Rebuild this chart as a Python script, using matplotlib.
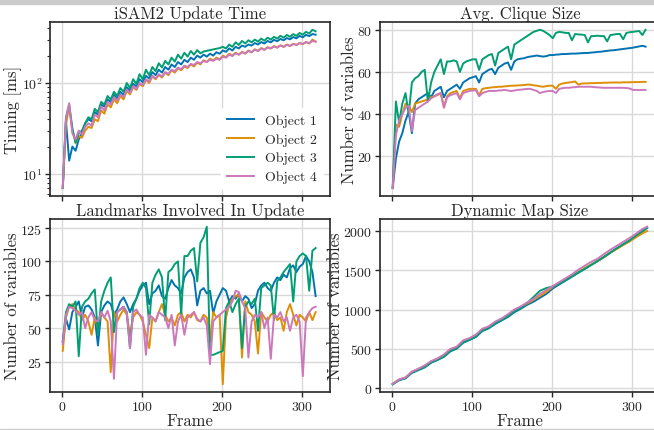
import numpy as np
import matplotlib
matplotlib.use("Agg")
import matplotlib.pyplot as plt
from matplotlib.ticker import MultipleLocator
from matplotlib.patches import Rectangle

# ------------------ Datos ------------------
labels = ["Object 1", "Object 2", "Object 3", "Object 4"]
colors = ["#0173B2", "#DE8F05", "#029E73", "#CC78BC"]

# frames muestreados cada 4
frames = np.arange(1, 320, 4)

# iSAM2 update time [ms]
timing_obj1 = [7, 38, 14, 20, 18, 24, 28, 36, 40, 38,
               48, 45, 58, 55, 66, 62, 74, 68, 80, 74,
               90, 82, 98, 92, 110, 102, 120, 112, 132, 122,
               140, 130, 150, 140, 160, 150, 170, 160, 180, 170,
               190, 180, 200, 190, 205, 195, 210, 200, 218, 210,
               228, 220, 240, 228, 250, 240, 258, 250, 265, 258,
               275, 265, 282, 272, 290, 280, 298, 288, 305, 295,
               312, 302, 320, 310, 330, 318, 338, 328, 345, 340]
timing_obj2 = [7, 35, 55, 30, 22, 26, 25, 30, 33, 32,
               40, 38, 50, 46, 58, 54, 66, 60, 72, 66,
               82, 75, 90, 84, 98, 92, 108, 100, 118, 110,
               122, 115, 130, 122, 138, 130, 145, 138, 152, 146,
               160, 152, 168, 160, 178, 170, 185, 178, 190, 182,
               200, 192, 210, 200, 215, 205, 220, 210, 228, 218,
               235, 225, 242, 232, 248, 240, 255, 245, 260, 250,
               265, 255, 270, 262, 275, 268, 282, 272, 300, 285]
timing_obj3 = [7, 42, 58, 32, 22, 28, 30, 36, 42, 40,
               52, 48, 62, 58, 72, 66, 80, 72, 88, 80,
               100, 88, 110, 98, 125, 110, 140, 122, 150, 135,
               165, 148, 175, 160, 190, 172, 205, 185, 215, 195,
               225, 205, 230, 212, 222, 226, 230, 234, 238, 242,
               250, 240, 265, 250, 280, 262, 290, 272, 295, 280,
               300, 285, 308, 292, 315, 300, 322, 308, 330, 315,
               338, 322, 345, 330, 355, 340, 365, 350, 385, 370]
timing_obj4 = [7, 40, 60, 28, 24, 30, 27, 33, 36, 34,
               45, 42, 55, 50, 62, 58, 70, 64, 75, 70,
               85, 78, 92, 86, 100, 95, 110, 104, 120, 112,
               125, 118, 132, 126, 140, 135, 148, 142, 155, 150,
               162, 158, 170, 165, 175, 170, 180, 175, 185, 180,
               195, 190, 205, 198, 212, 205, 218, 212, 225, 218,
               232, 225, 240, 232, 245, 240, 252, 245, 258, 250,
               262, 256, 268, 262, 275, 268, 282, 275, 290, 285]

# Avg. clique size
clique_obj1 = [5, 19, 27, 31, 37, 41, 31, 45, 47, 48,
               49, 50, 48, 51, 52, 53, 48, 51, 52, 53,
               54, 52, 55, 56, 57, 57.5, 58, 55, 59, 60,
               61, 61.5, 59, 62, 63, 64, 64.5, 61, 65, 66,
               66.3, 66.5, 67, 67.3, 67.5, 67.8, 67.5, 67.3, 67.5, 68,
               68, 68.2, 68.3, 68.5, 68.5, 68.6, 68.7, 68.7, 68.8, 68.9,
               69, 69, 69.2, 69.3, 69.5, 69.6, 69.8, 70, 70.2, 70.3,
               70.5, 70.7, 70.9, 71.1, 71.3, 71.5, 71.8, 72.1, 72.4, 72]
clique_obj2 = [5, 35, 34, 40, 45, 44, 41, 45, 45.5, 46,
               46.5, 47, 48, 48.5, 49, 50, 43.5, 48.5, 50, 50.5,
               51, 47.5, 51, 51.5, 52, 52, 52, 49, 52, 52.3,
               52.5, 52.7, 52.8, 53, 53, 53.2, 53.3, 53.5, 53.5, 53.6,
               53.7, 53.8, 54, 54, 53.7, 53.5, 53.2, 53, 53.3, 53.5,
               53.5, 52, 54, 54.5, 54.8, 55, 55.2, 55.5, 54, 54.5,
               54.6, 54.6, 54.7, 54.7, 54.8, 54.8, 54.9, 54.9, 55, 55,
               55, 55, 55.1, 55.1, 55.1, 55.2, 55.2, 55.2, 55.3, 55.3]
clique_obj3 = [5, 46, 36, 45, 50, 40, 55, 57, 58, 60,
               61, 46, 55, 60, 63, 66, 59, 65, 65, 65.5,
               65, 60, 64, 65, 65.5, 66, 66, 61, 66, 67,
               68, 68.5, 63, 69, 70, 71, 72, 66, 73, 74,
               75, 76, 77, 78, 79, 79.5, 80, 79.5, 78.5, 77.5,
               76, 78.5, 79, 78.8, 78.5, 78.5, 75, 78, 77.8, 77.7,
               77.5, 74, 77, 77, 77.2, 77, 77, 74.5, 77.5, 77.7,
               78, 78, 75.5, 78.5, 78.8, 79, 79.2, 79.4, 77.5, 80]
clique_obj4 = [5, 30, 37, 40, 43, 44, 32, 42, 43, 44,
               45, 46, 47.5, 48.5, 49.5, 50, 43, 48, 49, 49.5,
               50, 47, 50, 50.5, 51, 51.2, 51.3, 48.5, 50, 50.5,
               51, 51, 51, 51.2, 51.3, 51.5, 51.2, 51, 51.2, 51.5,
               51.6, 51.8, 52, 52, 51.5, 51, 50, 50.5, 50.8, 51,
               51, 50, 52, 52.3, 52.5, 52.5, 52.7, 52.8, 53, 53,
               53, 53, 53, 52.8, 52.7, 52.6, 52.5, 52.5, 52.5, 52.5,
               52.5, 52.5, 52.5, 52.4, 52.2, 51.5, 51.5, 51.4, 51.5, 51.5]

# Landmarks involved in update
lm_obj1 = [40, 57, 49, 62, 66, 70, 58, 66, 67, 64,
           58, 37, 62, 67, 70, 68, 60, 64, 70, 73,
           68, 62, 68, 72, 78, 82, 84, 68, 76, 78,
           82, 74, 72, 80, 86, 82, 80, 76, 88, 92,
           94, 88, 67, 78, 80, 76, 78, 61, 70, 75,
           80, 78, 70, 74, 72, 76, 70, 74, 72, 65,
           68, 78, 82, 84, 80, 78, 84, 88, 86, 90,
           88, 95, 97, 92, 96, 98, 104, 100, 92, 74]
lm_obj2 = [33, 58, 66, 68, 64, 62, 56, 60, 55, 45,
           58, 50, 62, 58, 55, 17, 62, 55, 60, 64,
           60, 45, 58, 62, 60, 55, 45, 35, 58, 55,
           62, 68, 60, 55, 58, 52, 60, 62, 55, 60,
           58, 62, 56, 55, 60, 58, 40, 62, 58, 60,
           8, 58, 68, 72, 74, 75, 28, 70, 62, 60,
           55, 31, 62, 58, 55, 60, 62, 56, 58, 48,
           62, 68, 60, 52, 60, 58, 55, 62, 56, 62]
lm_obj3 = [40, 62, 68, 66, 70, 29, 66, 70, 72, 76,
           79, 45, 70, 78, 84, 88, 47, 62, 64, 66,
           62, 35, 66, 72, 80, 84, 80, 53, 84, 90,
           94, 88, 56, 92, 94, 98, 100, 60, 104, 104,
           108, 110, 85, 114, 118, 126, 30, 30, 31, 32,
           33, 65, 70, 62, 68, 72, 35, 66, 70, 68,
           72, 48, 80, 82, 84, 82, 56, 85, 88, 92,
           95, 98, 70, 100, 104, 106, 104, 78, 108, 110]
lm_obj4 = [38, 60, 66, 65, 63, 60, 62, 50, 58, 62,
           56, 55, 62, 58, 63, 55, 12, 62, 64, 66,
           62, 35, 62, 64, 60, 58, 30, 60, 58, 55,
           62, 60, 58, 50, 60, 37, 55, 60, 45, 58,
           60, 62, 57, 55, 58, 52, 23, 55, 58, 60,
           62, 64, 66, 70, 78, 77, 70, 65, 28, 55,
           60, 58, 62, 50, 58, 27, 60, 58, 62, 55,
           58, 48, 58, 60, 55, 14, 58, 62, 65, 66]

# Dynamic map size (cada 8 frames)
frames_map = list(range(1, 314, 8)) + [319]
map_obj1 = [45, 95, 120, 190, 225, 260, 320, 355, 395, 465,
            500, 575, 610, 650, 725, 760, 815, 860, 905, 965,
            1010, 1060, 1100, 1150, 1200, 1270, 1320, 1370, 1420, 1470,
            1520, 1570, 1620, 1670, 1725, 1780, 1830, 1880, 1940, 2000, 2045]
map_obj2 = [50, 105, 130, 205, 240, 280, 335, 370, 420, 490,
            520, 595, 625, 665, 745, 775, 835, 875, 925, 985,
            1030, 1075, 1125, 1175, 1225, 1290, 1335, 1385, 1430, 1480,
            1530, 1575, 1620, 1670, 1730, 1775, 1825, 1870, 1925, 1975, 2005]
map_obj3 = [45, 100, 122, 195, 228, 265, 322, 358, 400, 470,
            505, 580, 615, 655, 730, 765, 825, 865, 915, 975,
            1020, 1085, 1160, 1240, 1275, 1295, 1330, 1375, 1425, 1475,
            1520, 1570, 1620, 1675, 1730, 1785, 1835, 1885, 1945, 2005, 2045]
map_obj4 = [50, 105, 130, 205, 242, 285, 340, 375, 425, 495,
            525, 605, 635, 680, 755, 785, 845, 885, 940, 1000,
            1040, 1090, 1135, 1200, 1250, 1300, 1350, 1400, 1450, 1510,
            1560, 1610, 1650, 1710, 1765, 1815, 1865, 1915, 1970, 2030, 2060]

# ------------------ Estilo ------------------
plt.rcParams.update({
    "font.family": "cmr10",
    "mathtext.fontset": "cm",
    "axes.formatter.use_mathtext": True,
    "axes.unicode_minus": False,
    "axes.edgecolor": "0.15",
    "axes.linewidth": 1.2,
    "text.color": "0.15",
    "axes.labelcolor": "0.15",
    "xtick.color": "0.15",
    "ytick.color": "0.15",
    "grid.color": "0.85",
    "grid.linewidth": 1.0,
})

fig = plt.figure(figsize=(6.54, 4.31), dpi=100)
ax_t = fig.add_axes([0.0765, 0.543, 0.428, 0.404])
ax_c = fig.add_axes([0.581, 0.543, 0.428, 0.404], sharex=ax_t)
ax_l = fig.add_axes([0.0765, 0.088, 0.428, 0.402], sharex=ax_t)
ax_m = fig.add_axes([0.581, 0.088, 0.428, 0.402], sharex=ax_t)

# (eje, x, series, titulo, etiqueta y, posicion x de la etiqueta)
panels = [
    (ax_t, frames, [timing_obj1, timing_obj2, timing_obj3, timing_obj4], "iSAM2 Update Time", "Timing [ms]", -0.1),
    (ax_c, frames, [clique_obj1, clique_obj2, clique_obj3, clique_obj4], "Avg. Clique Size", "Number of variables", -0.082),
    (ax_l, frames, [lm_obj1, lm_obj2, lm_obj3, lm_obj4], "Landmarks Involved In Update", "Number of variables", -0.107),
    (ax_m, frames_map, [map_obj1, map_obj2, map_obj3, map_obj4], "Dynamic Map Size", "Number of variables", -0.132),
]

for ax, xs, series, title, ylabel, lx in panels:
    for ys, lab, col in zip(series, labels, colors):
        ax.plot(xs, ys, color=col, lw=1.4, label=lab)
    ax.set_title(title, fontsize=12, pad=3)
    ax.set_ylabel(ylabel, fontsize=12)
    ax.yaxis.set_label_coords(lx, 0.5)
    ax.grid(True, which="major")
    ax.set_axisbelow(True)
    ax.tick_params(labelsize=10, length=3.5, width=1.0, pad=2)

ax_t.set_yscale("log")
ax_t.tick_params(which="minor", length=2, width=0.8)
ax_l.yaxis.set_major_locator(MultipleLocator(25))
ax_m.yaxis.set_major_locator(MultipleLocator(500))
ax_t.xaxis.set_major_locator(MultipleLocator(100))

for ax in (ax_t, ax_c):
    ax.tick_params(labelbottom=False)
for ax in (ax_l, ax_m):
    ax.set_xlabel("Frame", fontsize=12, labelpad=0)

leg = ax_t.legend(loc="lower right", fontsize=10, frameon=True, labelspacing=0.45,
                  facecolor="white", edgecolor="white", framealpha=1.0)

# franja gris superior del recorte
fig.patches.append(Rectangle((0, 1 - 5 / 431), 1, 5 / 431, transform=fig.transFigure,
                             color="#cccccc", zorder=-1))
fig.patches.append(Rectangle((0, 0), 1, 1.5 / 431, transform=fig.transFigure,
                             color="#cccccc", zorder=-1))

fig.savefig("out.png", dpi=100)
